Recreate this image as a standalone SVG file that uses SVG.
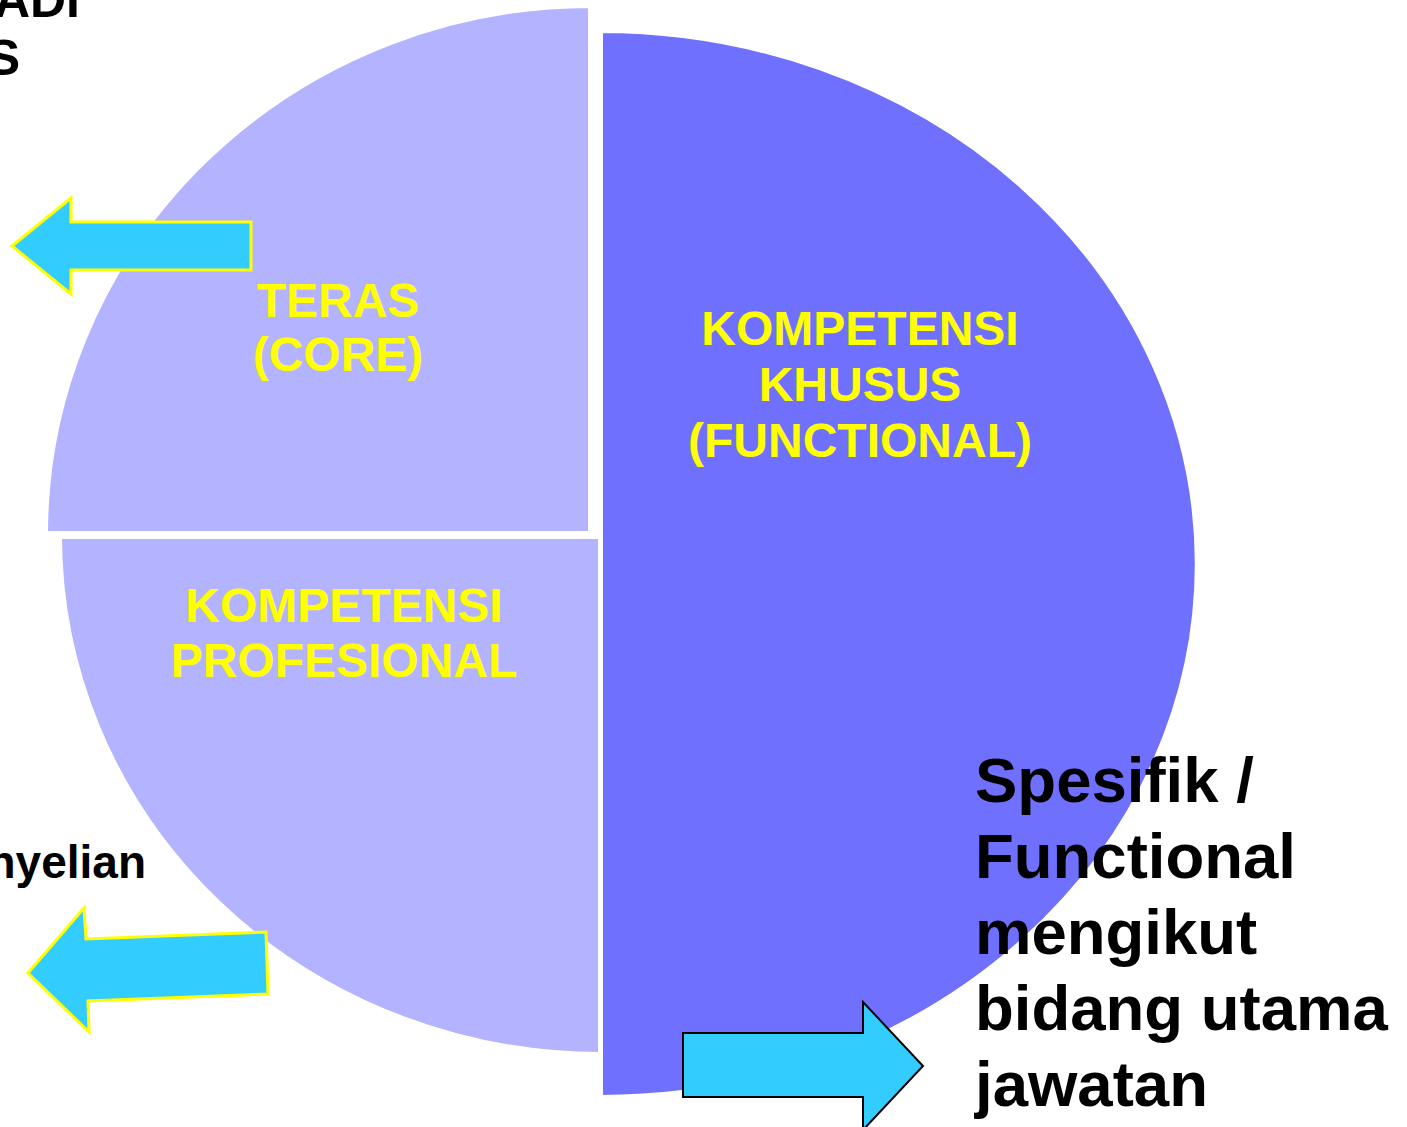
<svg xmlns="http://www.w3.org/2000/svg" width="1407" height="1127" viewBox="0 0 1407 1127">
<style>
.light{fill:#B3B3FF;stroke:#FFFFFF;stroke-width:6;stroke-linejoin:miter}
.dark{fill:#7070FF;stroke:#FFFFFF;stroke-width:4}
.lbl{font-family:"Liberation Sans",Arial,sans-serif;font-weight:bold;font-size:48px;fill:#FFFF00;text-anchor:middle}
.side{font-family:"Liberation Sans",Arial,sans-serif;font-weight:bold;fill:#000000}
.arrY{fill:#33CCFF;stroke:#FFFF00;stroke-width:3;stroke-linejoin:miter}
.arrK{fill:#33CCFF;stroke:#000000;stroke-width:2;stroke-linejoin:miter}
</style>
<rect x="0" y="0" width="1407" height="1127" fill="#FFFFFF"/>
<g id="node-teras">
<path class="light" d="M591,534 L591,5 A546,529 0 0 0 45,534 Z"/>
<text class="lbl" x="338" y="317" font-size="46">TERAS</text>
<text class="lbl" x="338" y="371" font-size="46">(CORE)</text>
</g>
<g id="node-profesional">
<path class="light" d="M601,536 L59,536 A542,519 0 0 0 601,1055 Z"/>
<text class="lbl" x="344" y="622">KOMPETENSI</text>
<text class="lbl" x="344" y="677">PROFESIONAL</text>
</g>
<g id="node-khusus">
<path class="dark" d="M601,31 A596,533 0 0 1 601,1097 Z"/>
<text class="lbl" x="860" y="345">KOMPETENSI</text>
<text class="lbl" x="860" y="401">KHUSUS</text>
<text class="lbl" x="860" y="457">(FUNCTIONAL)</text>
</g>
<g id="text-top-left">
<text class="side" font-size="50" x="80" y="17" text-anchor="end">ADI</text>
<text class="side" font-size="50" x="20" y="75" text-anchor="end">S</text>
</g>
<g id="text-left">
<text class="side" font-size="46" x="146" y="878" text-anchor="end">nyelian</text>
</g>
<g id="text-right">
<text class="side" font-size="63.5" x="975" y="802">Spesifik /</text>
<text class="side" font-size="63.5" x="975" y="878">Functional</text>
<text class="side" font-size="63.5" x="975" y="954">mengikut</text>
<text class="side" font-size="63.5" x="975" y="1030">bidang utama</text>
<text class="side" font-size="63.5" x="975" y="1106">jawatan</text>
</g>
<g id="connectors">
<path class="arrY" d="M12,246 L71,198 L71,222 L251,222 L251,270 L71,270 L71,294 Z"/>
<path class="arrY" d="M28,973 L84,908 L86,939 L266,932 L268,994 L88,1001 L89,1032 Z"/>
<path class="arrK" d="M683,1033 L863,1033 L863,1002 L923,1066 L863,1130 L863,1097 L683,1097 Z"/>
</g>
</svg>
